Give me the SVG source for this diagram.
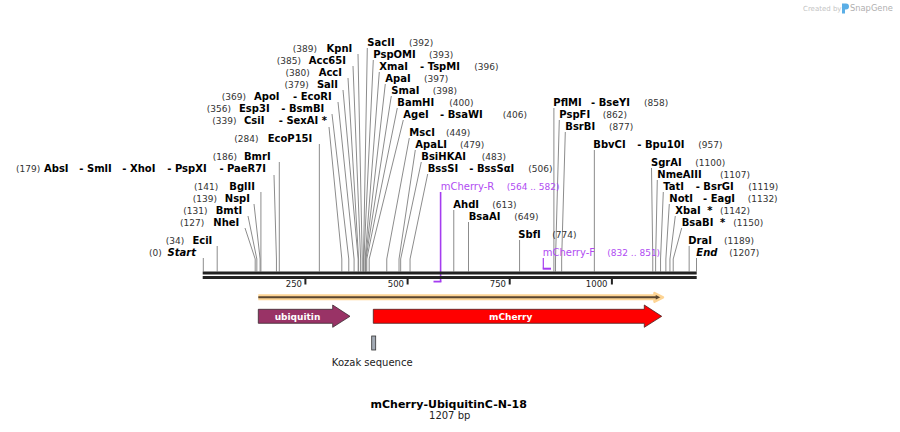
<svg xmlns="http://www.w3.org/2000/svg" width="900" height="432" viewBox="0 0 900 432">
<style>
text{font-family:"DejaVu Sans",Verdana,sans-serif}
.n{font-size:10px;font-weight:bold;fill:#000}
.bi{font-style:italic}
.e{text-anchor:end}
.num{font-size:9px;fill:#333}
.pr{font-size:10px;fill:#b04cf2}
.prn{font-size:9px;fill:#b04cf2}
.c{stroke:#8c8c8c;stroke-width:1;fill:none}
.pl{stroke:#a53cf0;fill:none}
.tk{font-size:8.5px;fill:#222;text-anchor:end}
.fl{font-size:9px;font-weight:bold;fill:#fff;text-anchor:middle}
</style>
<rect width="900" height="432" fill="#fff"/>

<g id="credit">
<text x="803" y="10.5" style="font-size:7px;fill:#c4c4c4">Created by</text>
<path d="M842,3.5 h4 a3,3 0 0 1 0,6 h-1 v4 h-3 z" fill="#5aaee6"/>
<text x="850" y="11" style="font-size:8.3px;fill:#b0b0b0">SnapGene</text>
</g>

<g id="connectors">
<polyline class="c" points="358,54 362.25,259 362.25,271.5"/>
<polyline class="c" points="353,66 360.62,259 360.62,271.5"/>
<polyline class="c" points="348,78 358.58,259 358.58,271.5"/>
<polyline class="c" points="343,90 358.17,259 358.17,271.5"/>
<polyline class="c" points="338,102 354.08,259 354.08,271.5"/>
<polyline class="c" points="332,114 348.77,259 348.77,271.5"/>
<polyline class="c" points="329,127 341.82,259 341.82,271.5"/>
<polyline class="c" points="319.35,144 319.35,271.5"/>
<polyline class="c" points="279.3,162 279.3,271.5"/>
<polyline class="c" points="274,175 276.44,259 276.44,271.5"/>
<polyline class="c" points="260.92,192 260.92,271.5"/>
<polyline class="c" points="254,204 260.1,259 260.1,271.5"/>
<polyline class="c" points="248,216 256.83,259 256.83,271.5"/>
<polyline class="c" points="245,228 255.19,259 255.19,271.5"/>
<polyline class="c" points="217.19,246 217.19,271.5"/>
<polyline class="c" points="203.3,258 203.3,271.5"/>
<polyline class="c" points="367.3,48 363.48,259 363.48,271.5"/>
<polyline class="c" points="373.3,60 363.89,259 363.89,271.5"/>
<polyline class="c" points="379.3,72 365.11,259 365.11,271.5"/>
<polyline class="c" points="385.3,84 365.52,259 365.52,271.5"/>
<polyline class="c" points="391.3,96 365.93,259 365.93,271.5"/>
<polyline class="c" points="397.3,108 366.75,259 366.75,271.5"/>
<polyline class="c" points="403.3,120 369.2,259 369.2,271.5"/>
<polyline class="c" points="409.3,138 386.77,259 386.77,271.5"/>
<polyline class="c" points="415.3,150 399.03,259 399.03,271.5"/>
<polyline class="c" points="421.3,162 400.66,259 400.66,271.5"/>
<polyline class="c" points="427.7,174 410.06,259 410.06,271.5"/>
<polyline class="c" points="453.78,210 453.78,271.5"/>
<polyline class="c" points="468.5,222 468.5,271.5"/>
<polyline class="c" points="519.57,240 519.57,271.5"/>
<polyline class="c" points="553.9,108 553.9,271.5"/>
<polyline class="c" points="559.3,120 555.53,259 555.53,271.5"/>
<polyline class="c" points="565.3,132 561.66,259 561.66,271.5"/>
<polyline class="c" points="594.35,150 594.35,271.5"/>
<polyline class="c" points="651.5,168 652.78,259 652.78,271.5"/>
<polyline class="c" points="657.3,180 655.64,259 655.64,271.5"/>
<polyline class="c" points="663.3,192 660.55,259 660.55,271.5"/>
<polyline class="c" points="669.3,204 665.86,259 665.86,271.5"/>
<polyline class="c" points="675.3,216 669.94,259 669.94,271.5"/>
<polyline class="c" points="681.7,228 673.21,259 673.21,271.5"/>
<polyline class="c" points="689.15,246 689.15,271.5"/>
<polyline class="c" points="696.5,258 696.5,271.5"/>
<path class="pl" d="M440.6,192 V281.6" stroke-width="1.6"/>
<path class="pl" d="M433.5,281.6 H441.4" stroke-width="1.8"/>
<path class="pl" d="M543.3,258 V268.6" stroke-width="1.2"/>
<path class="pl" d="M542.7,268.7 H551" stroke-width="2"/>
</g>

<g id="map">
<rect x="202.7" y="271.5" width="494" height="3" fill="#222"/>
<rect x="202.7" y="276" width="494" height="3" fill="#222"/>
<g stroke="#222" stroke-width="2">
<line x1="305.4" y1="279" x2="305.4" y2="284.5"/>
<line x1="407.6" y1="279" x2="407.6" y2="284.5"/>
<line x1="509.7" y1="279" x2="509.7" y2="284.5"/>
<line x1="611.9" y1="279" x2="611.9" y2="284.5"/>
</g>
<text class="tk" x="302" y="287">250</text>
<text class="tk" x="404" y="287">500</text>
<text class="tk" x="506" y="287">750</text>
<text class="tk" x="607.5" y="287">1000</text>
</g>

<g id="orf">
<line x1="258.3" y1="297.3" x2="656" y2="297.3" stroke="#fdd494" stroke-width="6"/>
<polygon points="654.5,293 663,297.3 654.5,301.6" fill="#5a4630" stroke="#fdd494" stroke-width="2.5" stroke-linejoin="round"/>
<line x1="258.3" y1="297.3" x2="657" y2="297.3" stroke="#5a4630" stroke-width="2"/>
</g>

<g id="ubiquitin">
<polygon points="258.3,309.3 332.7,309.3 332.7,305 350,316.3 332.7,327.3 332.7,323.3 258.3,323.3" fill="#993366" stroke="#3a2a30" stroke-width="0.8"/>
<text class="fl" x="297.5" y="319.5">ubiquitin</text>
</g>
<g id="mCherry">
<polygon points="373.3,309.3 644.3,309.3 644.3,305 661.7,316.3 644.3,327.3 644.3,323.3 373.3,323.3" fill="#ff0000" stroke="#4a2020" stroke-width="0.8"/>
<text class="fl" x="510.7" y="319.5">mCherry</text>
</g>
<g id="kozak">
<rect x="371.7" y="336" width="4" height="14" fill="#a3abb5" stroke="#333" stroke-width="0.8"/>
<text x="372.2" y="366" style="font-size:10px;fill:#222;text-anchor:middle">Kozak sequence</text>
</g>

<g id="title">
<text x="448.7" y="408.3" style="font-size:11px;font-weight:bold;fill:#000;text-anchor:middle">mCherry-UbiquitinC-N-18</text>
<text x="449.7" y="419.3" style="font-size:10px;fill:#222;text-anchor:middle">1207 bp</text>
</g>

<g id="KpnI"><text class="num" x="292.7" y="52">(389)</text><text class="n e" x="352.3" y="52">KpnI</text></g>
<g id="Acc65I"><text class="num" x="276.7" y="64">(385)</text><text class="n e" x="346" y="64">Acc65I</text></g>
<g id="AccI"><text class="num" x="285.5" y="76">(380)</text><text class="n e" x="342" y="76">AccI</text></g>
<g id="SalI"><text class="num" x="284.5" y="88">(379)</text><text class="n e" x="338" y="88">SalI</text></g>
<g id="ApoI"><text class="num" x="221.7" y="100">(369)</text><text class="n" x="254" y="100">ApoI</text><text class="n e" x="331.7" y="100">- EcoRI</text></g>
<g id="Esp3I"><text class="num" x="206.7" y="112">(356)</text><text class="n" x="239" y="112">Esp3I</text><text class="n e" x="324.3" y="112">- BsmBI</text></g>
<g id="CsiI"><text class="num" x="212.3" y="124">(339)</text><text class="n" x="244" y="124">CsiI</text><text class="n e" x="327" y="124">- SexAI *</text></g>
<g id="EcoP15I"><text class="num" x="234.3" y="142">(284)</text><text class="n e" x="312.3" y="142">EcoP15I</text></g>
<g id="BmrI"><text class="num" x="212.7" y="160">(186)</text><text class="n e" x="270.7" y="160">BmrI</text></g>
<g id="AbsI"><text class="num" x="16" y="172">(179)</text><text class="n" x="44" y="172">AbsI</text><text class="n" x="79.3" y="172">- SmlI</text><text class="n" x="122.3" y="172">- XhoI</text><text class="n" x="167.3" y="172">- PspXI</text><text class="n e" x="266" y="172">- PaeR7I</text></g>
<g id="BglII"><text class="num" x="194" y="190">(141)</text><text class="n e" x="255" y="190">BglII</text></g>
<g id="NspI"><text class="num" x="192.7" y="202">(139)</text><text class="n e" x="250" y="202">NspI</text></g>
<g id="BmtI"><text class="num" x="183.3" y="214">(131)</text><text class="n e" x="242.3" y="214">BmtI</text></g>
<g id="NheI"><text class="num" x="180" y="226">(127)</text><text class="n e" x="239.3" y="226">NheI</text></g>
<g id="EciI"><text class="num" x="165.7" y="244">(34)</text><text class="n e" x="212.3" y="244">EciI</text></g>
<g id="Start"><text class="num" x="149" y="256">(0)</text><text class="n e bi" x="196" y="256">Start</text></g>

<g id="SacII"><text class="n" x="367.3" y="46">SacII</text><text class="num" x="409" y="46">(392)</text></g>
<g id="PspOMI"><text class="n" x="373.3" y="58">PspOMI</text><text class="num" x="429" y="58">(393)</text></g>
<g id="XmaI"><text class="n" x="379.3" y="70">XmaI</text><text class="n" x="420" y="70">- TspMI</text><text class="num" x="474.3" y="70">(396)</text></g>
<g id="ApaI"><text class="n" x="385.3" y="82">ApaI</text><text class="num" x="424" y="82">(397)</text></g>
<g id="SmaI"><text class="n" x="391.3" y="94">SmaI</text><text class="num" x="432.7" y="94">(398)</text></g>
<g id="BamHI"><text class="n" x="397.3" y="106">BamHI</text><text class="num" x="449.3" y="106">(400)</text></g>
<g id="AgeI"><text class="n" x="403.3" y="118">AgeI</text><text class="n" x="440" y="118">- BsaWI</text><text class="num" x="502.7" y="118">(406)</text></g>
<g id="MscI"><text class="n" x="409.3" y="136">MscI</text><text class="num" x="446" y="136">(449)</text></g>
<g id="ApaLI"><text class="n" x="415.3" y="148">ApaLI</text><text class="num" x="460" y="148">(479)</text></g>
<g id="BsiHKAI"><text class="n" x="421.3" y="160">BsiHKAI</text><text class="num" x="481.7" y="160">(483)</text></g>
<g id="BssSI"><text class="n" x="427.7" y="172">BssSI</text><text class="n" x="469.3" y="172">- BssSαI</text><text class="num" x="528.3" y="172">(506)</text></g>
<g id="mCherry-R"><text class="pr" x="440.7" y="190">mCherry-R</text><text class="prn" x="506.7" y="190">(564 .. 582)</text></g>
<g id="AhdI"><text class="n" x="453.3" y="208">AhdI</text><text class="num" x="492.3" y="208">(613)</text></g>
<g id="BsaAI"><text class="n" x="468.7" y="220">BsaAI</text><text class="num" x="514.3" y="220">(649)</text></g>
<g id="SbfI"><text class="n" x="518.3" y="238">SbfI</text><text class="num" x="552.3" y="238">(774)</text></g>
<g id="mCherry-F"><text class="pr" x="542.7" y="256">mCherry-F</text><text class="prn" x="607.3" y="256">(832 .. 851)</text></g>
<g id="PflMI"><text class="n" x="553.3" y="106">PflMI</text><text class="n" x="591" y="106">- BseYI</text><text class="num" x="644" y="106">(858)</text></g>
<g id="PspFI"><text class="n" x="559.3" y="118">PspFI</text><text class="num" x="602.7" y="118">(862)</text></g>
<g id="BsrBI"><text class="n" x="565.3" y="130">BsrBI</text><text class="num" x="609" y="130">(877)</text></g>
<g id="BbvCI"><text class="n" x="593.3" y="148">BbvCI</text><text class="n" x="637.3" y="148">- Bpu10I</text><text class="num" x="698.3" y="148">(957)</text></g>
<g id="SgrAI"><text class="n" x="651" y="166">SgrAI</text><text class="num" x="695.3" y="166">(1100)</text></g>
<g id="NmeAIII"><text class="n" x="657.3" y="178">NmeAIII</text><text class="num" x="720" y="178">(1107)</text></g>
<g id="TatI"><text class="n" x="663.3" y="190">TatI</text><text class="n" x="695.7" y="190">- BsrGI</text><text class="num" x="748.3" y="190">(1119)</text></g>
<g id="NotI"><text class="n" x="669.3" y="202">NotI</text><text class="n" x="703" y="202">- EagI</text><text class="num" x="747.7" y="202">(1132)</text></g>
<g id="XbaI"><text class="n" x="675.3" y="214">XbaI</text><text class="n" x="707.3" y="214">*</text><text class="num" x="720" y="214">(1142)</text></g>
<g id="BsaBI"><text class="n" x="681.7" y="226">BsaBI</text><text class="n" x="720" y="226">*</text><text class="num" x="733.3" y="226">(1150)</text></g>
<g id="DraI"><text class="n" x="688.3" y="244">DraI</text><text class="num" x="724" y="244">(1189)</text></g>
<g id="End"><text class="n bi" x="696.3" y="256">End</text><text class="num" x="729.3" y="256">(1207)</text></g>
</svg>
